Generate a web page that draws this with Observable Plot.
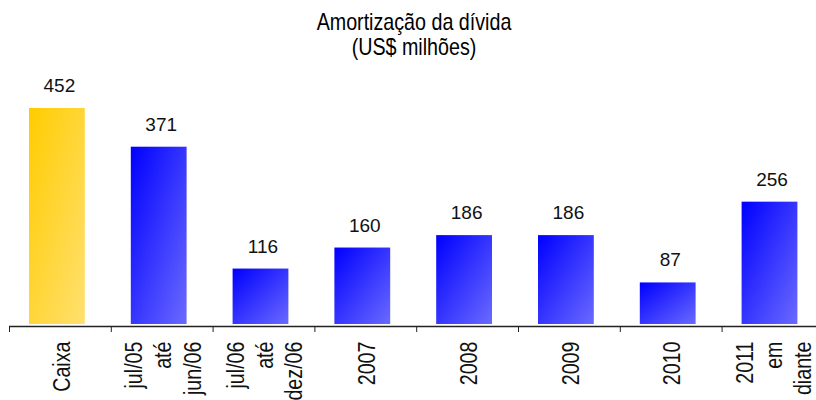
<!DOCTYPE html>
<html>
<head>
<meta charset="utf-8">
<script src="https://cdn.jsdelivr.net/npm/d3@7"></script>
<script src="https://cdn.jsdelivr.net/npm/@observablehq/plot@0.6"></script>
<style>
  html, body { margin: 0; padding: 0; background: #fff; overflow: hidden; }
  #wrap { width: 816px; height: 400px; position: relative; }
  #title {
    box-sizing: border-box; width: 816px; height: 60px; padding: 9px 0 0 12px;
    font-family: "Liberation Sans", Arial, sans-serif;
    font-size: 24px; line-height: 25px; text-align: center; color: #000;
  }
  #title span { display: block; transform: scaleX(0.82); transform-origin: 50% 50%; }
  svg { display: block; }
</style>
</head>
<body>
<div id="wrap">
  <div id="title"><span>Amortização da dívida</span><span>(US$ milhões)</span></div>
  <div id="chart"></div>
</div>
<script>
// ---- data ----
const categories = ["Caixa", "jul/05\naté\njun/06", "jul/06\naté\ndez/06", "2007", "2008", "2009", "2010", "2011\nem\ndiante"];
const values = [452, 371, 116, 160, 186, 186, 87, 256];
const cashCategories = ["Caixa"];

const data = categories.map((cat, i) => ({cat, value: values[i], cash: cashCategories.includes(cat)}));

const xRange = [9, 823.4];
const step = (xRange[1] - xRange[0]) / categories.length;

const chart = Plot.plot({
  width: 816,
  height: 340,
  marginLeft: 9,
  marginRight: 0,
  marginTop: 0,
  marginBottom: 74,
  style: {background: "white", color: "#000", fontFamily: "Liberation Sans, Arial, sans-serif", fontSize: "19px"},
  x: {domain: categories, range: xRange, padding: 0, round: false, label: null},
  y: {domain: [0, 452], range: [264, 48], axis: null},
  marks: [
    Plot.barY(data.filter(d => d.cash), {x: "cat", y: "value", fill: "url(#gGold)", insetLeft: 20, insetRight: 26}),
    Plot.barY(data.filter(d => !d.cash), {x: "cat", y: "value", fill: "url(#gBlue)", insetLeft: 20, insetRight: 26}),
    Plot.ruleY([0], {dy: 2, stroke: "#222", strokeWidth: 1.3}),
    Plot.axisX({anchor: "bottom", tickSize: 6, tickFormat: () => "", dx: -step / 2, stroke: "#222", label: null}),
    Plot.text(data, {x: "cat", y: "value", text: d => String(d.value), dy: -16.5, dx: -1, lineAnchor: "bottom", fontSize: 19, fill: "#111"}),
    Plot.text(data, {x: "cat", text: "cat", frameAnchor: "bottom", rotate: -90, textAnchor: "end", lineAnchor: "middle", lineHeight: 1.21, dy: 15, fontSize: 24, fill: "#111"})
  ]
});

// condense the rotated category labels along their reading direction
d3.select(chart).selectAll("text, g").each(function() {
  const t = this.getAttribute("transform") || "";
  if (t.includes("rotate(-90")) this.setAttribute("transform", t + " scale(0.82,1)");
});

const defs = d3.select(chart).insert("defs", ":first-child");
function grad(id, c0, c1) {
  const g = defs.append("linearGradient").attr("id", id)
    .attr("x1", 0).attr("y1", 0).attr("x2", 1).attr("y2", 1);
  g.append("stop").attr("offset", "0%").attr("stop-color", c0);
  g.append("stop").attr("offset", "100%").attr("stop-color", c1);
}
grad("gBlue", "#0000ff", "#6a6aff");
grad("gGold", "#ffcc00", "#ffe070");

document.getElementById("chart").appendChild(chart);
</script>
</body>
</html>
